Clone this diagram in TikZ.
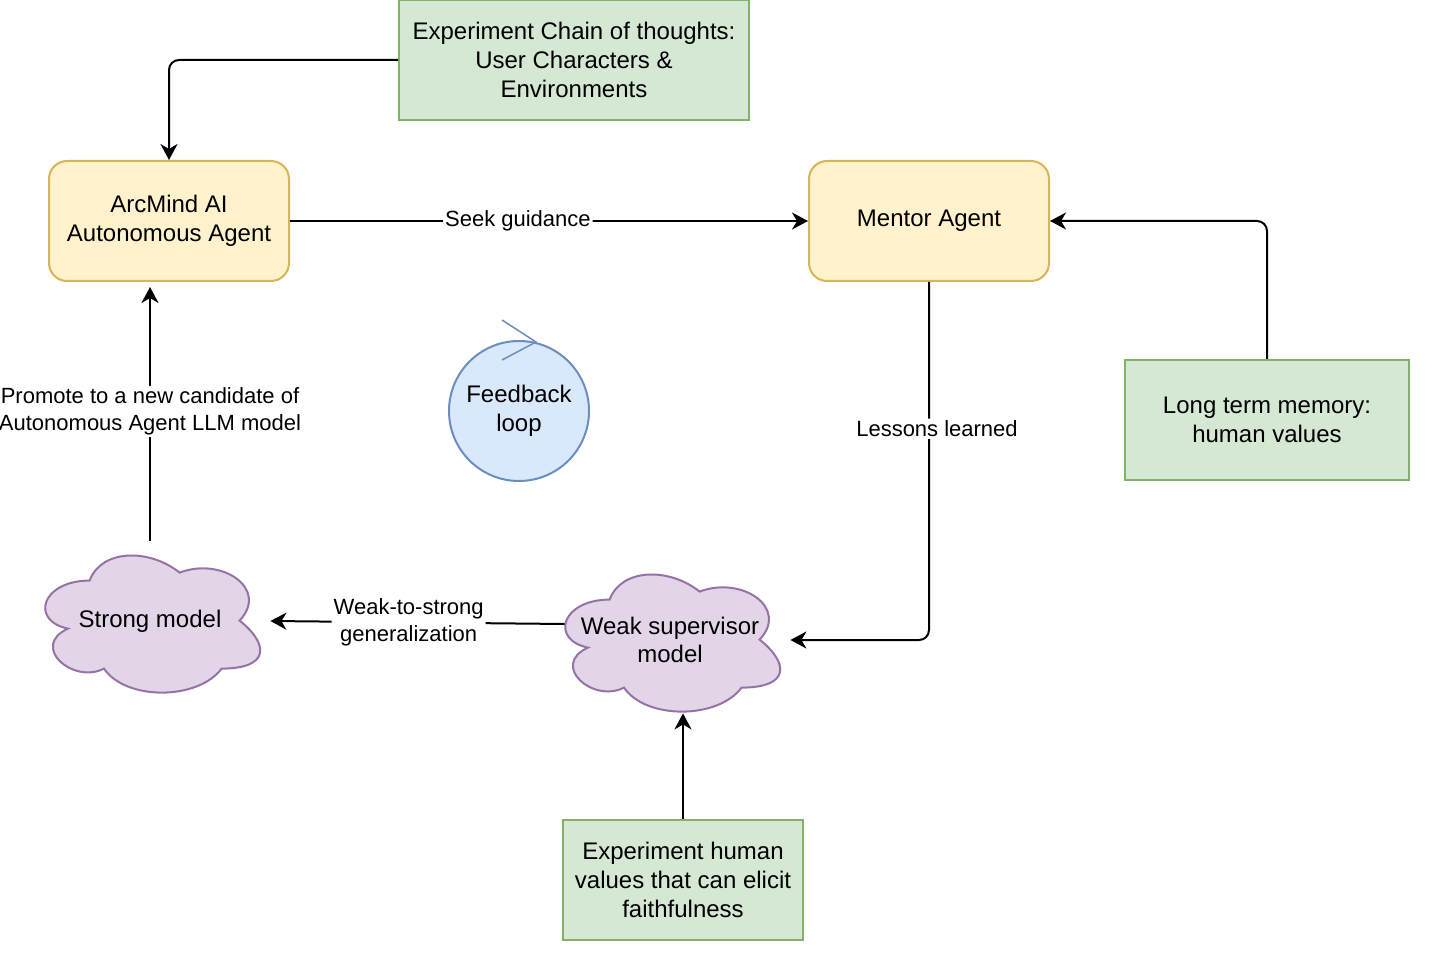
\documentclass[tikz,border=0pt]{standalone}
\usepackage{fontspec}
\setmainfont{Liberation Sans}
\usetikzlibrary{arrows.meta,calc,backgrounds}

\definecolor{agentfill}{HTML}{FFF2CC}
\definecolor{agentline}{HTML}{D6B656}
\definecolor{notefill}{HTML}{D5E8D4}
\definecolor{noteline}{HTML}{82B366}
\definecolor{cloudfill}{HTML}{E1D5E7}
\definecolor{cloudline}{HTML}{9673A6}
\definecolor{loopfill}{HTML}{DAE8FC}
\definecolor{loopline}{HTML}{6C8EBF}

\newcommand\bodyfont{\fontsize{12pt}{14.4pt}\selectfont}
\newcommand\labelfont{\fontsize{11pt}{13.2pt}\selectfont}

\tikzset{
  agent/.style={draw=agentline, fill=agentfill, line width=1pt, rounded corners=9pt,
    minimum width=120pt, minimum height=60pt, align=center, font=\bodyfont},
  note/.style={draw=noteline, fill=notefill, line width=1pt,
    minimum height=60pt, align=center, font=\bodyfont},
  model/.style={minimum width=120pt, minimum height=80pt, inner sep=0pt, align=center, font=\bodyfont},
  flow/.style={-{Stealth[length=8pt,width=8.5pt,inset=2.5pt]}, line width=1pt, rounded corners=5pt},
  lbl/.style={fill=white, inner sep=1pt, align=center, font=\labelfont},
}

% draw.io cloud outline over the box of a model node
\newcommand\cloudover[1]{%
  \begin{scope}[shift={(#1.north west)}, x=120pt, y=-80pt]
    \draw[cloudline, fill=cloudfill, line width=1pt]
      (0.25,0.25) .. controls (0.05,0.25) and (0,0.5) .. (0.16,0.55)
      .. controls (0,0.66) and (0.18,0.9) .. (0.31,0.8)
      .. controls (0.4,1) and (0.7,1) .. (0.8,0.8)
      .. controls (1,0.8) and (1,0.65) .. (0.875,0.5)
      .. controls (1,0.3) and (0.8,0.1) .. (0.625,0.2)
      .. controls (0.5,0.05) and (0.3,0.05) .. (0.25,0.25) -- cycle;
  \end{scope}}

\begin{document}
\begin{tikzpicture}[x=0.5pt, y=-0.5pt]
  \useasboundingbox (0,0) rectangle (1434,967);

  \node[note, minimum width=175pt] (chain) at (574,60) {Experiment Chain of thoughts:\\User Characters \&\\Environments};
  \node[agent] (arcmind) at (169,221) {ArcMind AI\\Autonomous Agent};
  \node[agent] (mentor) at (929,221) {Mentor Agent};
  \node[note, minimum width=142pt] (memory) at (1267,420) {Long term memory:\\human values};
  \node[draw=loopline, fill=loopfill, line width=1pt, circle, minimum size=70pt, inner sep=0pt,
    align=center, font=\bodyfont] (loop) at (519,411) {Feedback\\loop};
  \node[model] (strong) at (150,621) {Strong model};
  \node[model] (weak) at (670,640) {Weak supervisor\\model};
  \node[note, minimum width=120pt] (human) at (683,880) {Experiment human\\values that can elicit\\faithfulness};

  \begin{scope}[on background layer]
    \cloudover{strong}
    \cloudover{weak}
  \end{scope}

  \draw[loopline, line width=0.75pt] ($(loop.north)+(-17,-20)$) -- ($(loop.north)+(17,2)$) -- ($(loop.north)+(-17,20)$);

  \draw[flow] (chain.west) -| (arcmind.north);
  \draw[flow] (arcmind.east) -- node[lbl, pos=0.44] {Seek guidance} (mentor.west);
  \draw[flow] (memory.north) |- (mentor.east);
  \draw[flow] (mentor.south) |- node[lbl, pos=0.205, xshift=4pt] {Lessons learned} (weak.east);
  \draw[flow] (human.north) -- ([yshift=3.5pt]human.north |- weak.south);
  \draw[flow] ([xshift=7.5pt, yshift=8pt]weak.west) -- node[lbl, pos=0.53] {Weak-to-strong\\generalization} (strong.east);
  \draw[flow, shorten >=2.5pt] (strong.north) -- node[lbl] {Promote to a new candidate of\\Autonomous Agent LLM model} (strong.north |- arcmind.south);
\end{tikzpicture}
\end{document}
